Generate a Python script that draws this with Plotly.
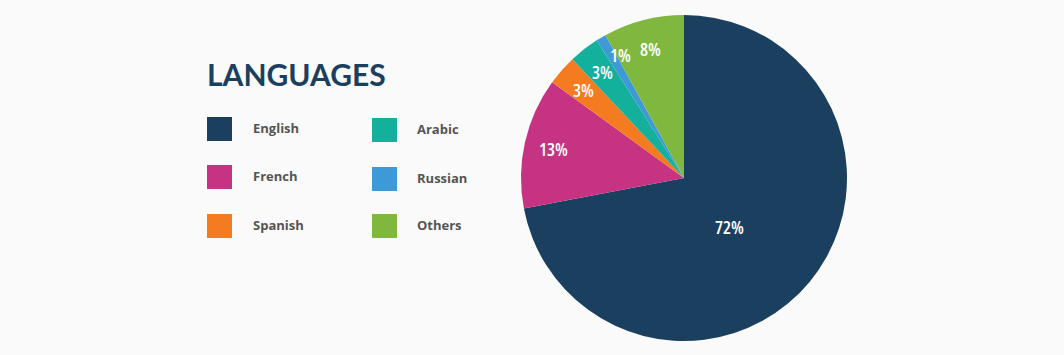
import math
import plotly.graph_objects as go

languages = ["English", "French", "Spanish", "Arabic", "Russian", "Others"]
shares = [72, 13, 3, 3, 1, 8]
colors = ["#1b3f5f", "#c63383", "#f47b20", "#13b09b", "#3d9ad6", "#80b73f"]
legend_left = ["English", "French", "Spanish"]
legend_right = ["Arabic", "Russian", "Others"]

W, H = 1064, 355
cx, cy, R = 684, 178, 163

fig = go.Figure()
fig.add_trace(go.Pie(
    labels=languages, values=shares, sort=False, direction="clockwise",
    rotation=0, marker=dict(colors=colors, line=dict(width=0)),
    textinfo="none", hoverinfo="label+percent", showlegend=False,
    domain=dict(x=[(cx - R) / W, (cx + R) / W], y=[(H - cy - R) / H, (H - cy + R) / H]),
))

annotations = []
total = sum(shares)
cum = 0
for lang, v in zip(languages, shares):
    frac_mid = (cum + v / 2) / total
    cum += v
    if v > 50:
        mid = frac_mid * 2 * math.pi + math.radians(7)
        rr = 0.41 * R
    elif v < 2:
        mid = frac_mid * 2 * math.pi + math.radians(3.5)
        rr = 0.85 * R
    else:
        mid = frac_mid * 2 * math.pi
        rr = 0.82 * R
    px = cx + rr * math.sin(mid)
    py = cy - rr * math.cos(mid)
    annotations.append(dict(
        x=px / W, y=1 - py / H, xref="paper", yref="paper", showarrow=False,
        text=f"<span style='font-stretch:condensed'>{v}%</span>",
        xanchor="center", yanchor="middle", borderpad=0,
        font=dict(family="Open Sans, sans-serif", size=18, color="white", weight=600),
    ))

annotations.append(dict(
    x=205 / W, y=1 - 74 / H, xref="paper", yref="paper", showarrow=False,
    text="<b>LANGUAGES</b>", xanchor="left", yanchor="middle",
    font=dict(family="Lato, Open Sans, sans-serif", size=30, color="#1b3f5f"),
))

shapes = []
color_of = dict(zip(languages, colors))
left_rows = [129, 177, 226]
right_rows = [130, 179, 226]
for names, sx, tx, rows in [(legend_left, 207, 251, left_rows), (legend_right, 372, 415, right_rows)]:
    for name, yc in zip(names, rows):
        shapes.append(dict(
            type="rect", xref="paper", yref="paper",
            x0=sx / W, x1=(sx + 25) / W, y0=1 - (yc - 12) / H, y1=1 - (yc + 12) / H,
            fillcolor=color_of[name], line=dict(width=0),
        ))
        annotations.append(dict(
            x=tx / W, y=1 - (yc - 1) / H, xref="paper", yref="paper", showarrow=False,
            text=f"<b>{name}</b>", xanchor="left", yanchor="middle",
            font=dict(family="Open Sans, sans-serif", size=13, color="#555555"),
        ))

fig.update_layout(
    width=W, height=H, margin=dict(l=0, r=0, t=0, b=0),
    paper_bgcolor="#fafafa", plot_bgcolor="#fafafa",
    annotations=annotations, shapes=shapes,
)
fig.write_html("out.html")
